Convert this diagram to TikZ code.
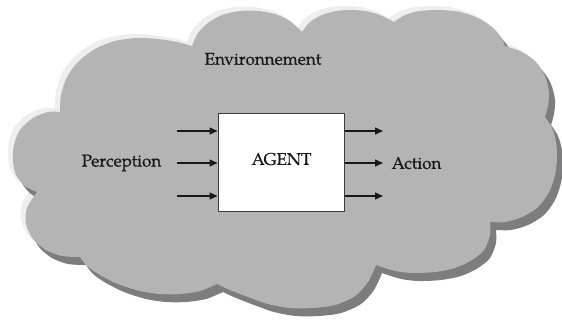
\documentclass[tikz,border=0pt]{standalone}
\usepackage{fontspec}
\setmainfont{TeX Gyre Pagella}[FakeBold=0.6]
\usetikzlibrary{arrows.meta}
\definecolor{cloudfill}{RGB}{180,180,180}
\definecolor{cloudshadow}{RGB}{125,125,127}
\definecolor{cloudhalo}{RGB}{238,238,238}
\definecolor{inkc}{RGB}{25,25,25}
\definecolor{boxline}{RGB}{60,60,60}
\tikzset{
  lbl/.style={font=\fontsize{17}{20}\selectfont, text=inkc, inner sep=0pt},
  flow/.style={draw=inkc, line width=1.2pt, -{Triangle[length=8pt,width=7pt]}},
  agentbox/.style={draw=boxline, line width=1pt, fill=white, minimum width=126pt, minimum height=98pt, inner sep=0pt}
}
\begin{document}
\begin{tikzpicture}[x=1pt,y=-1pt]
\useasboundingbox (0,0) rectangle (562,320);
\foreach \dx/\dy/\col in {-5/-4/cloudhalo, 6/8/cloudshadow, 0/0/cloudfill}{
\fill[\col, shift={(\dx,\dy)}]
  plot[smooth] coordinates {(60,112) (61,95) (67,77) (78,62) (95,49) (115,41) (137,38) (158,39) (177,42) (192,46)}
  -- plot[smooth] coordinates {(192,46) (198,33) (208,23) (222,15) (240,11) (258,11) (275,14) (290,21) (302,32)}
  -- plot[smooth] coordinates {(302,32) (310,22) (322,15) (336,11) (350,10) (365,11) (380,15) (394,22)}
  -- plot[smooth] coordinates {(394,22) (405,15) (420,11) (440,10) (460,12) (478,18) (492,27) (501,37) (505,46)}
  -- plot[smooth] coordinates {(505,46) (522,52) (536,62) (545,76) (549,92) (548,106) (545,117)}
  -- plot[smooth] coordinates {(545,117) (552,128) (556,142) (557,158) (555,175) (549,192) (538,207) (522,217) (505,222) (490,222)}
  -- plot[smooth] coordinates {(490,222) (490,235) (484,250) (472,260) (455,268) (435,272) (413,273) (395,271) (376,265)}
  -- plot[smooth] coordinates {(376,265) (368,282) (355,296) (335,305) (313,308) (290,308) (268,304) (248,297) (230,290) (217,284)}
  -- plot[smooth] coordinates {(217,284) (200,291) (180,294) (160,294) (140,291) (118,284) (100,275) (87,266) (80,257)}
  -- plot[smooth] coordinates {(80,257) (62,256) (46,250) (33,239) (26,224) (27,208) (37,192)}
  -- plot[smooth] coordinates {(37,192) (25,186) (16,175) (13,160) (14,145) (20,130) (33,118) (48,112) (60,112)}
  -- cycle;
}
\node[agentbox] (agent) at (281,163) {};
\node[lbl] (agenttext) at (281.5,159) {AGENT};
\node[lbl] (env) at (263,59) {Environnement};
\node[lbl] (perc) at (121.5,163) {Perception};
\node[lbl] (act) at (416.5,163) {Action};
\coordinate (in1) at (177,131);
\coordinate (in2) at (177,163);
\coordinate (in3) at (177,196);
\coordinate (out1) at (383,131);
\coordinate (out2) at (383,163);
\coordinate (out3) at (383,196);
\draw[flow] (in1) -- (agent.west |- in1);
\draw[flow] (in2) -- (agent.west |- in2);
\draw[flow] (in3) -- (agent.west |- in3);
\draw[flow] (agent.east |- out1) -- (out1);
\draw[flow] (agent.east |- out2) -- (out2);
\draw[flow] (agent.east |- out3) -- (out3);
\end{tikzpicture}
\end{document}
